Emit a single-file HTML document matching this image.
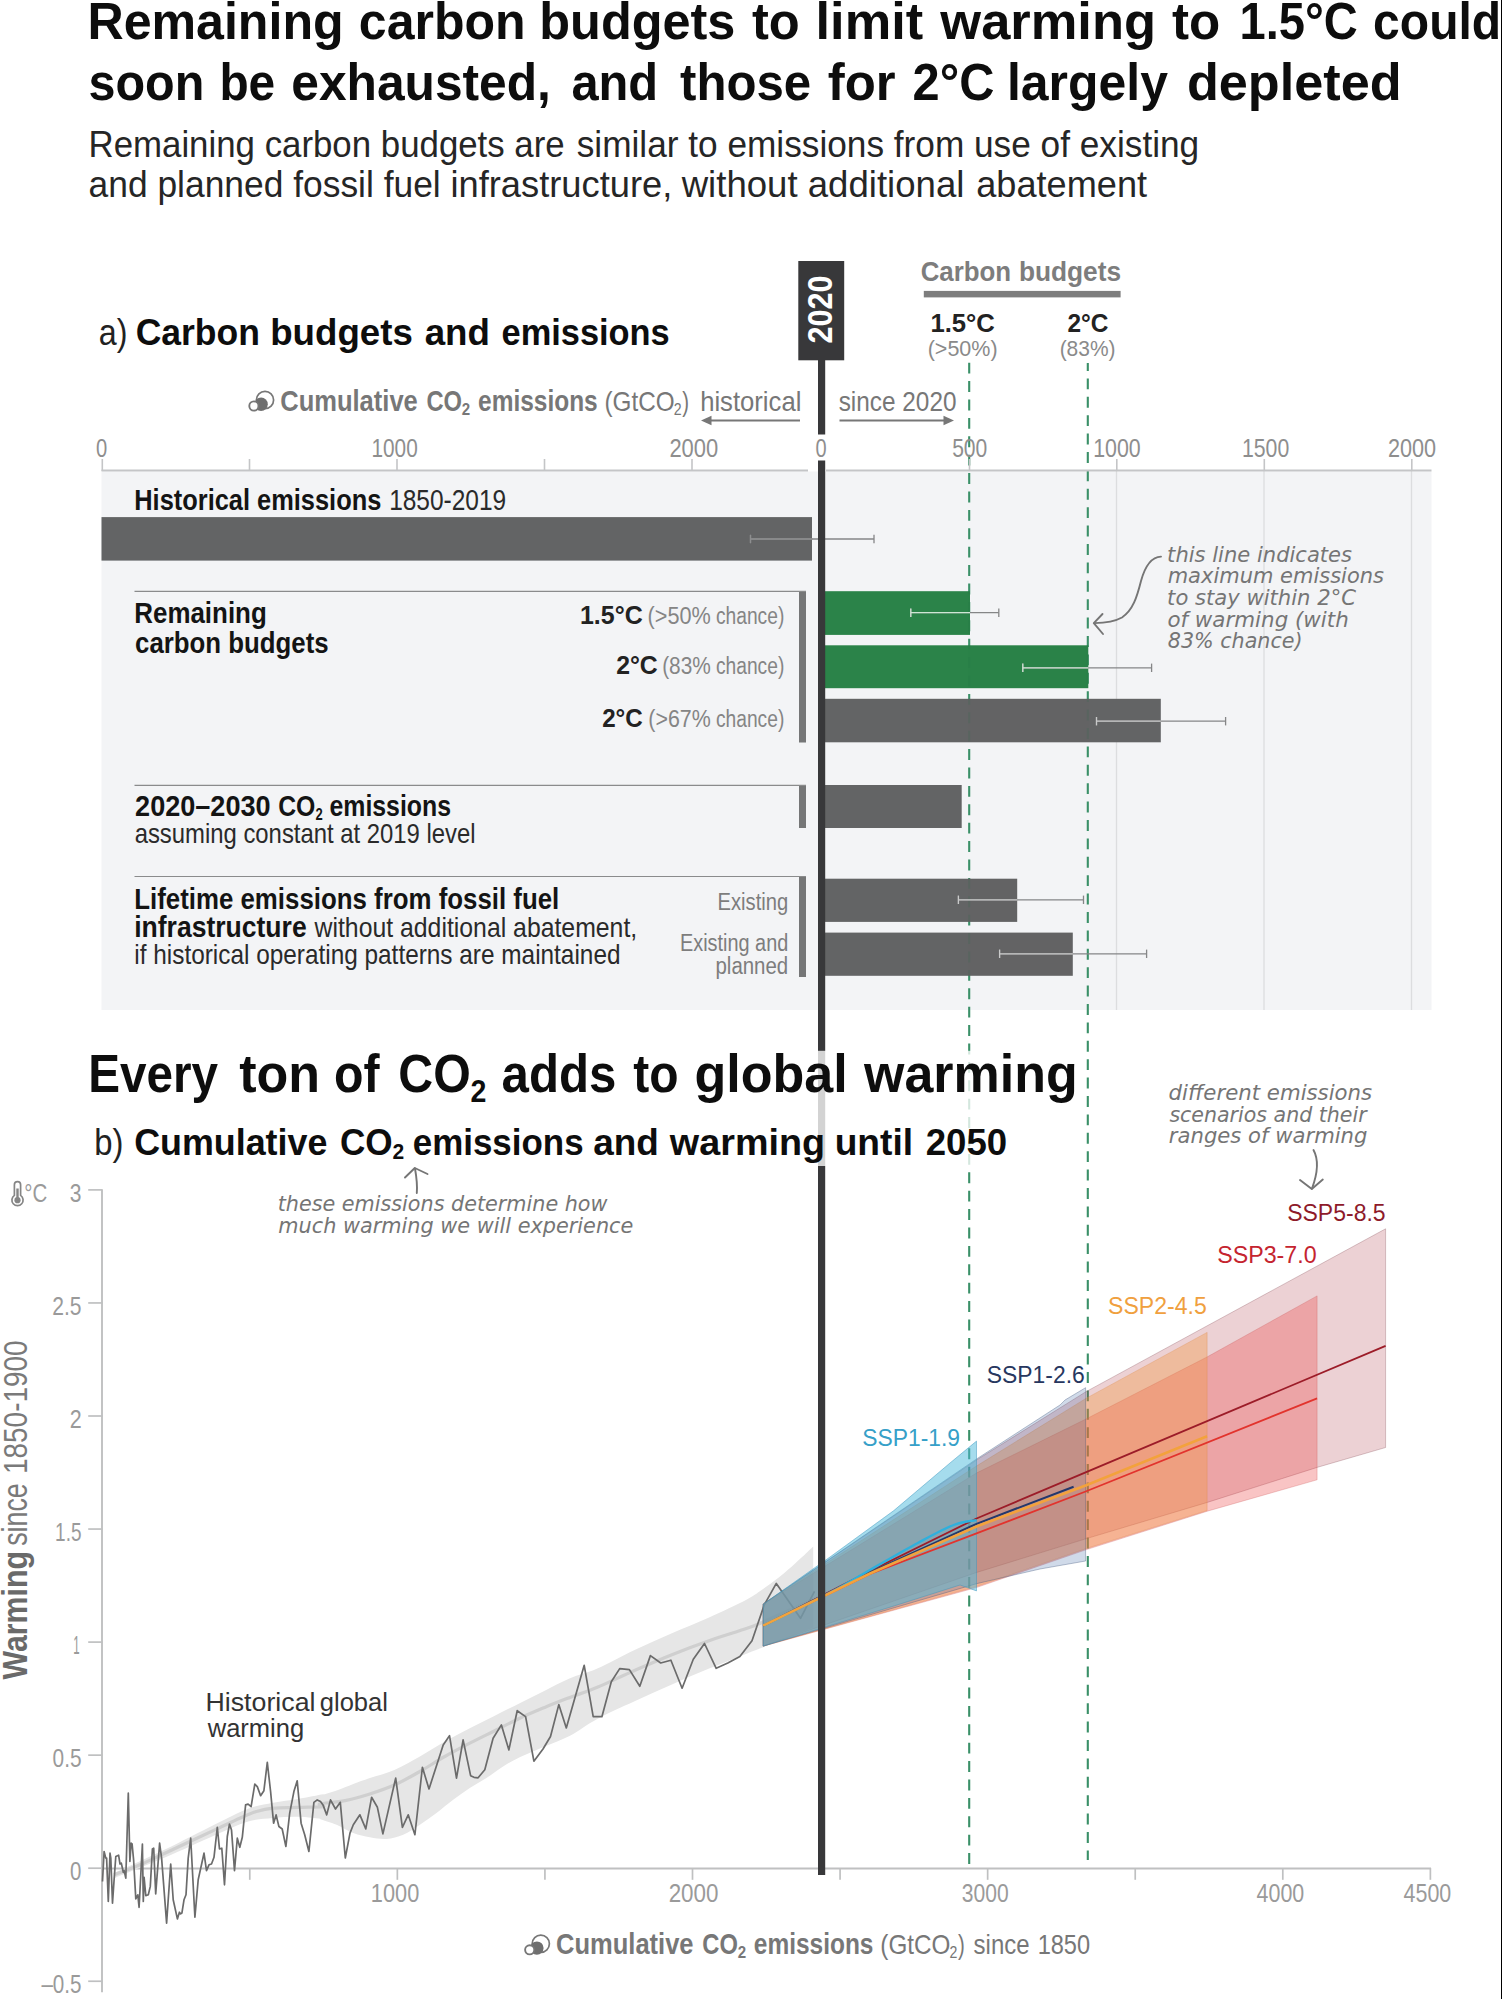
<!DOCTYPE html>
<html lang="en"><head><meta charset="utf-8"><title>Remaining carbon budgets</title>
<style>
html,body{margin:0;padding:0;background:#fff;}
body{width:1502px;height:1999px;overflow:hidden;}
svg{display:block;font-family:"Liberation Sans", "DejaVu Sans", sans-serif;}
</style></head><body>
<svg width="1502" height="1999" viewBox="0 0 1502 1999">
<rect width="1502" height="1999" fill="#fff"/>
<text x="87.44" y="38.6" font-size="52" fill="#0d0d0d" font-weight="bold" textLength="256.21" lengthAdjust="spacingAndGlyphs">Remaining</text>
<text x="358.85" y="38.6" font-size="52" fill="#0d0d0d" font-weight="bold" textLength="166.81" lengthAdjust="spacingAndGlyphs">carbon</text>
<text x="539.32" y="38.6" font-size="52" fill="#0d0d0d" font-weight="bold" textLength="196.08" lengthAdjust="spacingAndGlyphs">budgets</text>
<text x="751.89" y="38.6" font-size="52" fill="#0d0d0d" font-weight="bold" textLength="47.82" lengthAdjust="spacingAndGlyphs">to</text>
<text x="815.6" y="38.6" font-size="52" fill="#0d0d0d" font-weight="bold" textLength="107.49" lengthAdjust="spacingAndGlyphs">limit</text>
<text x="940.36" y="38.6" font-size="52" fill="#0d0d0d" font-weight="bold" textLength="215.64" lengthAdjust="spacingAndGlyphs">warming</text>
<text x="1171.89" y="38.6" font-size="52" fill="#0d0d0d" font-weight="bold" textLength="48.24" lengthAdjust="spacingAndGlyphs">to</text>
<text x="1239.47" y="38.6" font-size="52" fill="#0d0d0d" font-weight="bold" textLength="118.31" lengthAdjust="spacingAndGlyphs">1.5°C</text>
<text x="1373.12" y="38.6" font-size="52" fill="#0d0d0d" font-weight="bold" textLength="128.08" lengthAdjust="spacingAndGlyphs">could</text>
<text x="88.5" y="99.7" font-size="52" fill="#0d0d0d" font-weight="bold" textLength="115.85" lengthAdjust="spacingAndGlyphs">soon</text>
<text x="219.39" y="99.7" font-size="52" fill="#0d0d0d" font-weight="bold" textLength="55.84" lengthAdjust="spacingAndGlyphs">be</text>
<text x="291.26" y="99.7" font-size="52" fill="#0d0d0d" font-weight="bold" textLength="259.63" lengthAdjust="spacingAndGlyphs">exhausted,</text>
<text x="571.38" y="99.7" font-size="52" fill="#0d0d0d" font-weight="bold" textLength="86.73" lengthAdjust="spacingAndGlyphs">and</text>
<text x="680.01" y="99.7" font-size="52" fill="#0d0d0d" font-weight="bold" textLength="131.17" lengthAdjust="spacingAndGlyphs">those</text>
<text x="827.84" y="99.7" font-size="52" fill="#0d0d0d" font-weight="bold" textLength="67.83" lengthAdjust="spacingAndGlyphs">for</text>
<text x="912.54" y="99.7" font-size="52" fill="#0d0d0d" font-weight="bold" textLength="81.84" lengthAdjust="spacingAndGlyphs">2°C</text>
<text x="1006.95" y="99.7" font-size="52" fill="#0d0d0d" font-weight="bold" textLength="161.0" lengthAdjust="spacingAndGlyphs">largely</text>
<text x="1186.91" y="99.7" font-size="52" fill="#0d0d0d" font-weight="bold" textLength="214.68" lengthAdjust="spacingAndGlyphs">depleted</text>
<text x="88.51" y="156.9" font-size="37.3" fill="#262626" textLength="476.2" lengthAdjust="spacingAndGlyphs">Remaining carbon budgets are</text>
<text x="576.72" y="156.9" font-size="37.3" fill="#262626" textLength="387.57" lengthAdjust="spacingAndGlyphs">similar to emissions from</text>
<text x="973.99" y="156.9" font-size="37.3" fill="#262626" textLength="225.22" lengthAdjust="spacingAndGlyphs">use of existing</text>
<text x="88.58" y="197.2" font-size="37.3" fill="#262626" textLength="352.1" lengthAdjust="spacingAndGlyphs">and planned fossil fuel</text>
<text x="450.44" y="197.2" font-size="37.3" fill="#262626" textLength="221.87" lengthAdjust="spacingAndGlyphs">infrastructure,</text>
<text x="681.68" y="197.2" font-size="37.3" fill="#262626" textLength="282.71" lengthAdjust="spacingAndGlyphs">without additional</text>
<text x="976.25" y="197.2" font-size="37.3" fill="#262626" textLength="170.77" lengthAdjust="spacingAndGlyphs">abatement</text>
<text x="98.71" y="344.5" font-size="36.5" fill="#222" textLength="28.7" lengthAdjust="spacingAndGlyphs">a)</text>
<text x="135.68" y="344.5" font-size="36.5" fill="#0d0d0d" font-weight="bold" textLength="124.25" lengthAdjust="spacingAndGlyphs">Carbon</text>
<text x="270.22" y="344.5" font-size="36.5" fill="#0d0d0d" font-weight="bold" textLength="142.62" lengthAdjust="spacingAndGlyphs">budgets</text>
<text x="424.68" y="344.5" font-size="36.5" fill="#0d0d0d" font-weight="bold" textLength="65.31" lengthAdjust="spacingAndGlyphs">and</text>
<text x="501.5" y="344.5" font-size="36.5" fill="#0d0d0d" font-weight="bold" textLength="168.25" lengthAdjust="spacingAndGlyphs">emissions</text>
<rect x="101.5" y="471.5" width="1330" height="538.5" fill="#f3f4f6" />
<line x1="1116.5" y1="471" x2="1116.5" y2="1010" stroke="#dcdddf" stroke-width="1.3" />
<line x1="1264" y1="471" x2="1264" y2="1010" stroke="#dcdddf" stroke-width="1.3" />
<line x1="1411.5" y1="471" x2="1411.5" y2="1010" stroke="#dcdddf" stroke-width="1.3" />
<line x1="969.2" y1="362.7" x2="969.2" y2="1864" stroke="#3a9068" stroke-width="2.1" stroke-dasharray="10.9 7.5" />
<line x1="1087.8" y1="363" x2="1087.8" y2="1860" stroke="#3a9068" stroke-width="2.1" stroke-dasharray="10.9 7.5" stroke-dashoffset="3" />
<g transform="translate(248.5 391.5) scale(1.0)" fill="none" stroke="#777" stroke-width="1.7"><circle cx="16.5" cy="8.5" r="8.6"/><circle cx="12.6" cy="12.8" r="6.7" fill="#6f6f6f" stroke="none"/><circle cx="5.4" cy="14.5" r="4.6" fill="#fff" stroke-width="1.9"/></g>
<text x="280.28" y="410.5" font-size="30" fill="#777" font-weight="bold" textLength="137.49" lengthAdjust="spacingAndGlyphs">Cumulative</text>
<text x="426.45" y="410.5" font-size="30" fill="#777" font-weight="bold" textLength="35.6" lengthAdjust="spacingAndGlyphs">CO</text>
<text x="461.85" y="414.5" font-size="16.5" fill="#777" font-weight="bold" textLength="8.4" lengthAdjust="spacingAndGlyphs">2</text>
<text x="478.04" y="410.5" font-size="30" fill="#777" font-weight="bold" textLength="119.64" lengthAdjust="spacingAndGlyphs">emissions</text>
<text x="604.55" y="410.5" font-size="28.5" fill="#777" textLength="70.03" lengthAdjust="spacingAndGlyphs">(GtCO</text>
<text x="673.79" y="414.5" font-size="16.5" fill="#777" textLength="7.86" lengthAdjust="spacingAndGlyphs">2</text>
<text x="682.2" y="410.5" font-size="28.5" fill="#777" textLength="6.78" lengthAdjust="spacingAndGlyphs">)</text>
<text x="700.13" y="410.5" font-size="28.5" fill="#777" textLength="101.23" lengthAdjust="spacingAndGlyphs">historical</text>
<text x="838.69" y="410.5" font-size="28.5" fill="#777" textLength="117.81" lengthAdjust="spacingAndGlyphs">since 2020</text>
<line x1="708" y1="420.5" x2="800" y2="420.5" stroke="#777" stroke-width="1.8" />
<polygon points="701,420.5 711.5,415.8 711.5,425.2" fill="#777" stroke="none" stroke-width="1" />
<line x1="839.5" y1="420.5" x2="947" y2="420.5" stroke="#777" stroke-width="1.8" />
<polygon points="954,420.5 943.5,415.8 943.5,425.2" fill="#777" stroke="none" stroke-width="1" />
<line x1="101.5" y1="470.5" x2="808" y2="470.5" stroke="#c4c5c7" stroke-width="2" />
<line x1="826" y1="470.5" x2="1431.5" y2="470.5" stroke="#c4c5c7" stroke-width="2" />
<line x1="102.3" y1="459" x2="102.3" y2="471" stroke="#c4c5c7" stroke-width="1.6" />
<line x1="249.5" y1="459" x2="249.5" y2="471" stroke="#c4c5c7" stroke-width="1.6" />
<line x1="397" y1="459" x2="397" y2="471" stroke="#c4c5c7" stroke-width="1.6" />
<line x1="544.5" y1="459" x2="544.5" y2="471" stroke="#c4c5c7" stroke-width="1.6" />
<line x1="692" y1="459" x2="692" y2="471" stroke="#c4c5c7" stroke-width="1.6" />
<line x1="969.5" y1="459" x2="969.5" y2="471" stroke="#c4c5c7" stroke-width="1.6" />
<line x1="1116.8" y1="459" x2="1116.8" y2="471" stroke="#c4c5c7" stroke-width="1.6" />
<line x1="1264.3" y1="459" x2="1264.3" y2="471" stroke="#c4c5c7" stroke-width="1.6" />
<line x1="1411.8" y1="459" x2="1411.8" y2="471" stroke="#c4c5c7" stroke-width="1.6" />
<text x="96.09" y="456.8" font-size="26" fill="#8e8e8e" textLength="11.24" lengthAdjust="spacingAndGlyphs">0</text>
<text x="371.44" y="456.8" font-size="26" fill="#8e8e8e" textLength="46.28" lengthAdjust="spacingAndGlyphs">1000</text>
<text x="669.4" y="456.8" font-size="26" fill="#8e8e8e" textLength="48.86" lengthAdjust="spacingAndGlyphs">2000</text>
<text x="815.6" y="456.8" font-size="26" fill="#8e8e8e" textLength="11.12" lengthAdjust="spacingAndGlyphs">0</text>
<text x="952.16" y="456.8" font-size="26" fill="#8e8e8e" textLength="35.15" lengthAdjust="spacingAndGlyphs">500</text>
<text x="1093.2" y="456.8" font-size="26" fill="#8e8e8e" textLength="47.54" lengthAdjust="spacingAndGlyphs">1000</text>
<text x="1242.01" y="456.8" font-size="26" fill="#8e8e8e" textLength="47.23" lengthAdjust="spacingAndGlyphs">1500</text>
<text x="1387.92" y="456.8" font-size="26" fill="#8e8e8e" textLength="48.13" lengthAdjust="spacingAndGlyphs">2000</text>
<text x="920.67" y="280.6" font-size="27" fill="#7d7d7d" font-weight="bold" textLength="90.49" lengthAdjust="spacingAndGlyphs">Carbon</text>
<text x="1018.89" y="280.6" font-size="27" fill="#7d7d7d" font-weight="bold" textLength="102.2" lengthAdjust="spacingAndGlyphs">budgets</text>
<rect x="923.8" y="290.9" width="196.8" height="6.5" fill="#7d7d7d" />
<text x="930.46" y="331.8" font-size="25.3" fill="#222" font-weight="bold" textLength="64.44" lengthAdjust="spacingAndGlyphs">1.5°C</text>
<text x="927.71" y="356" font-size="22.5" fill="#8a8a8a" textLength="69.91" lengthAdjust="spacingAndGlyphs">(&gt;50%)</text>
<text x="1067.47" y="331.6" font-size="25.3" fill="#222" font-weight="bold" textLength="40.92" lengthAdjust="spacingAndGlyphs">2°C</text>
<text x="1059.64" y="356" font-size="22.5" fill="#8a8a8a" textLength="55.86" lengthAdjust="spacingAndGlyphs">(83%)</text>
<rect x="101.5" y="517.1" width="710.5" height="43.5" fill="#636465" />
<rect x="825" y="591.2" width="145" height="43.7" fill="#2b8349" />
<rect x="825" y="645.3" width="263.3" height="42.9" fill="#2b8349" />
<rect x="825" y="698.8" width="335.8" height="43.5" fill="#636465" />
<rect x="825" y="785" width="136.7" height="43" fill="#636465" />
<rect x="825" y="878.7" width="192.2" height="43.2" fill="#636465" />
<rect x="825" y="932.6" width="247.8" height="43.2" fill="#636465" />
<clipPath id="barclip"><rect x="825" y="591.2" width="145" height="43.7"/><rect x="825" y="645" width="263.3" height="43.3"/><rect x="825" y="698.4" width="335.8" height="44"/><rect x="825" y="785" width="136.7" height="43"/><rect x="825" y="878.7" width="192.2" height="43.2"/><rect x="825" y="932.6" width="247.8" height="43.2"/></clipPath>
<g clip-path="url(#barclip)" opacity="0.14">
<line x1="969.2" y1="362.7" x2="969.2" y2="1864" stroke="#1f6b45" stroke-width="2.2" stroke-dasharray="10.9 7.5"/>
<line x1="1087.8" y1="363" x2="1087.8" y2="1860" stroke="#1f6b45" stroke-width="2.2" stroke-dasharray="10.9 7.5" stroke-dashoffset="3"/>
</g>
<rect x="799" y="591" width="7" height="151.5" fill="#757677" />
<rect x="799" y="785" width="7" height="43" fill="#757677" />
<rect x="799" y="876.5" width="7" height="100.5" fill="#757677" />
<line x1="134.5" y1="591.3" x2="806" y2="591.3" stroke="#8a8b8c" stroke-width="1.2" />
<line x1="134.5" y1="785.3" x2="806" y2="785.3" stroke="#8a8b8c" stroke-width="1.2" />
<line x1="134.5" y1="876.5" x2="806" y2="876.5" stroke="#8a8b8c" stroke-width="1.2" />
<line x1="750.5" y1="539" x2="874" y2="539" stroke="#858687" stroke-width="1.3" />
<line x1="750.5" y1="534.8" x2="750.5" y2="543.2" stroke="#858687" stroke-width="1.3" />
<line x1="874" y1="534.8" x2="874" y2="543.2" stroke="#858687" stroke-width="1.3" />
<line x1="750.5" y1="539" x2="812.5" y2="539" stroke="#8d8e8f" stroke-width="1.3" />
<line x1="750.5" y1="534.8" x2="750.5" y2="543.2" stroke="#8d8e8f" stroke-width="1.3" />
<line x1="910.8" y1="612.7" x2="998.8" y2="612.7" stroke="#858687" stroke-width="1.3" />
<line x1="910.8" y1="608.5" x2="910.8" y2="616.9000000000001" stroke="#858687" stroke-width="1.3" />
<line x1="998.8" y1="608.5" x2="998.8" y2="616.9000000000001" stroke="#858687" stroke-width="1.3" />
<line x1="910.8" y1="612.7" x2="970" y2="612.7" stroke="#cfe6d5" stroke-width="1.3" />
<line x1="910.8" y1="608.5" x2="910.8" y2="616.9000000000001" stroke="#cfe6d5" stroke-width="1.3" />
<line x1="1022.8" y1="667.8" x2="1151.6" y2="667.8" stroke="#858687" stroke-width="1.3" />
<line x1="1022.8" y1="663.5999999999999" x2="1022.8" y2="672.0" stroke="#858687" stroke-width="1.3" />
<line x1="1151.6" y1="663.5999999999999" x2="1151.6" y2="672.0" stroke="#858687" stroke-width="1.3" />
<line x1="1022.8" y1="667.8" x2="1088.3" y2="667.8" stroke="#cfe6d5" stroke-width="1.3" />
<line x1="1022.8" y1="663.5999999999999" x2="1022.8" y2="672.0" stroke="#cfe6d5" stroke-width="1.3" />
<line x1="1096.5" y1="721.2" x2="1225.6" y2="721.2" stroke="#858687" stroke-width="1.3" />
<line x1="1096.5" y1="717.0" x2="1096.5" y2="725.4000000000001" stroke="#858687" stroke-width="1.3" />
<line x1="1225.6" y1="717.0" x2="1225.6" y2="725.4000000000001" stroke="#858687" stroke-width="1.3" />
<line x1="1096.5" y1="721.2" x2="1160.8" y2="721.2" stroke="#c9caca" stroke-width="1.3" />
<line x1="1096.5" y1="717.0" x2="1096.5" y2="725.4000000000001" stroke="#c9caca" stroke-width="1.3" />
<line x1="958.4" y1="899.8" x2="1083.5" y2="899.8" stroke="#858687" stroke-width="1.3" />
<line x1="958.4" y1="895.5999999999999" x2="958.4" y2="904.0" stroke="#858687" stroke-width="1.3" />
<line x1="1083.5" y1="895.5999999999999" x2="1083.5" y2="904.0" stroke="#858687" stroke-width="1.3" />
<line x1="958.4" y1="899.8" x2="1017.2" y2="899.8" stroke="#c9caca" stroke-width="1.3" />
<line x1="958.4" y1="895.5999999999999" x2="958.4" y2="904.0" stroke="#c9caca" stroke-width="1.3" />
<line x1="999.6" y1="953.8" x2="1146.6" y2="953.8" stroke="#858687" stroke-width="1.3" />
<line x1="999.6" y1="949.5999999999999" x2="999.6" y2="958.0" stroke="#858687" stroke-width="1.3" />
<line x1="1146.6" y1="949.5999999999999" x2="1146.6" y2="958.0" stroke="#858687" stroke-width="1.3" />
<line x1="999.6" y1="953.8" x2="1072.8" y2="953.8" stroke="#c9caca" stroke-width="1.3" />
<line x1="999.6" y1="949.5999999999999" x2="999.6" y2="958.0" stroke="#c9caca" stroke-width="1.3" />
<text x="134.25" y="510.2" font-size="29" fill="#141414" font-weight="bold" textLength="247.07" lengthAdjust="spacingAndGlyphs">Historical emissions</text>
<text x="389.17" y="510.2" font-size="29" fill="#2a2a2a" textLength="116.99" lengthAdjust="spacingAndGlyphs">1850-2019</text>
<text x="134.32" y="623.3" font-size="29" fill="#141414" font-weight="bold" textLength="132.42" lengthAdjust="spacingAndGlyphs">Remaining</text>
<text x="135.1" y="653" font-size="29" fill="#141414" font-weight="bold" textLength="193.52" lengthAdjust="spacingAndGlyphs">carbon budgets</text>
<text x="580.0" y="624.1" font-size="25.3" fill="#222" font-weight="bold" textLength="62.68" lengthAdjust="spacingAndGlyphs">1.5°C</text>
<text x="647.6" y="624.1" font-size="23.5" fill="#858585" textLength="63.23" lengthAdjust="spacingAndGlyphs">(&gt;50%</text>
<text x="715.93" y="624.1" font-size="23.5" fill="#858585" textLength="68.38" lengthAdjust="spacingAndGlyphs">chance)</text>
<text x="616.16" y="674.2" font-size="25.3" fill="#222" font-weight="bold" textLength="41.54" lengthAdjust="spacingAndGlyphs">2°C</text>
<text x="662.15" y="674.2" font-size="23.5" fill="#858585" textLength="48.67" lengthAdjust="spacingAndGlyphs">(83%</text>
<text x="715.93" y="674.2" font-size="23.5" fill="#858585" textLength="68.38" lengthAdjust="spacingAndGlyphs">chance)</text>
<text x="602.18" y="726.6" font-size="25.3" fill="#222" font-weight="bold" textLength="40.51" lengthAdjust="spacingAndGlyphs">2°C</text>
<text x="648.32" y="726.6" font-size="23.5" fill="#858585" textLength="62.5" lengthAdjust="spacingAndGlyphs">(&gt;67%</text>
<text x="715.93" y="726.6" font-size="23.5" fill="#858585" textLength="68.38" lengthAdjust="spacingAndGlyphs">chance)</text>
<text x="135.09" y="816" font-size="29" fill="#141414" font-weight="bold" textLength="135.47" lengthAdjust="spacingAndGlyphs">2020–2030</text>
<text x="278.21" y="816" font-size="29" fill="#141414" font-weight="bold" textLength="37.18" lengthAdjust="spacingAndGlyphs">CO</text>
<text x="315.51" y="819.5" font-size="16.5" fill="#141414" font-weight="bold" textLength="7.26" lengthAdjust="spacingAndGlyphs">2</text>
<text x="329.43" y="816" font-size="29" fill="#141414" font-weight="bold" textLength="121.67" lengthAdjust="spacingAndGlyphs">emissions</text>
<text x="134.65" y="843.2" font-size="28" fill="#2a2a2a" textLength="340.93" lengthAdjust="spacingAndGlyphs">assuming constant at 2019 level</text>
<text x="134.22" y="909.2" font-size="29" fill="#141414" font-weight="bold" textLength="425.05" lengthAdjust="spacingAndGlyphs">Lifetime emissions from fossil fuel</text>
<text x="134.18" y="937.2" font-size="29" fill="#141414" font-weight="bold" textLength="172.46" lengthAdjust="spacingAndGlyphs">infrastructure</text>
<text x="314.52" y="937.2" font-size="28" fill="#2a2a2a" textLength="322.69" lengthAdjust="spacingAndGlyphs">without additional abatement,</text>
<text x="134.32" y="963.8" font-size="28" fill="#2a2a2a" textLength="486.17" lengthAdjust="spacingAndGlyphs">if historical operating patterns are maintained</text>
<text x="717.48" y="909.8" font-size="23.5" fill="#7d7d7d" textLength="70.76" lengthAdjust="spacingAndGlyphs">Existing</text>
<text x="680.01" y="951" font-size="23.5" fill="#7d7d7d" textLength="108.24" lengthAdjust="spacingAndGlyphs">Existing and</text>
<text x="715.47" y="973.7" font-size="23.5" fill="#7d7d7d" textLength="72.74" lengthAdjust="spacingAndGlyphs">planned</text>
<text x="1167.14" y="561.5" font-size="20.5" fill="#757575" font-style="italic" font-family='"DejaVu Sans", "Liberation Sans", sans-serif' textLength="184.89" lengthAdjust="spacingAndGlyphs">this line indicates</text>
<text x="1167.67" y="583.2" font-size="20.5" fill="#757575" font-style="italic" font-family='"DejaVu Sans", "Liberation Sans", sans-serif' textLength="216.36" lengthAdjust="spacingAndGlyphs">maximum emissions</text>
<text x="1167.13" y="604.9" font-size="20.5" fill="#757575" font-style="italic" font-family='"DejaVu Sans", "Liberation Sans", sans-serif' textLength="188.83" lengthAdjust="spacingAndGlyphs">to stay within 2°C</text>
<text x="1167.44" y="626.6" font-size="20.5" fill="#757575" font-style="italic" font-family='"DejaVu Sans", "Liberation Sans", sans-serif' textLength="181.33" lengthAdjust="spacingAndGlyphs">of warming (with</text>
<text x="1167.78" y="648.3" font-size="20.5" fill="#757575" font-style="italic" font-family='"DejaVu Sans", "Liberation Sans", sans-serif' textLength="134.81" lengthAdjust="spacingAndGlyphs">83% chance)</text>
<path d="M1161,556.6 C1150,557 1144,570 1141,581 C1137,597 1133,610 1122,617.5 C1113,622.5 1103,623 1094.5,623.1" stroke="#757575" stroke-width="1.9" fill="none" stroke-linecap="round"/>
<path d="M1102.5,614 L1093.8,623.1 L1103,634" stroke="#757575" stroke-width="1.9" fill="none" stroke-linecap="round" stroke-linejoin="round"/>
<line x1="102" y1="1189.5" x2="102" y2="1992.3" stroke="#bfc0c1" stroke-width="1.9" />
<line x1="88.2" y1="1981.25" x2="102.5" y2="1981.25" stroke="#bfc0c1" stroke-width="1.7" />
<text x="41.4" y="1993.2" font-size="26" fill="#9a9a9a" textLength="40.15" lengthAdjust="spacingAndGlyphs">–0.5</text>
<line x1="88.2" y1="1868.2" x2="102.5" y2="1868.2" stroke="#bfc0c1" stroke-width="1.7" />
<text x="70.09" y="1880.1" font-size="26" fill="#9a9a9a" textLength="11.35" lengthAdjust="spacingAndGlyphs">0</text>
<line x1="88.2" y1="1755.15" x2="102.5" y2="1755.15" stroke="#bfc0c1" stroke-width="1.7" />
<text x="52.57" y="1767.1" font-size="26" fill="#9a9a9a" textLength="28.97" lengthAdjust="spacingAndGlyphs">0.5</text>
<line x1="88.2" y1="1642.1000000000001" x2="102.5" y2="1642.1000000000001" stroke="#bfc0c1" stroke-width="1.7" />
<text x="73.14" y="1654.0" font-size="26" fill="#9a9a9a" textLength="6.39" lengthAdjust="spacingAndGlyphs">1</text>
<line x1="88.2" y1="1529.0500000000002" x2="102.5" y2="1529.0500000000002" stroke="#bfc0c1" stroke-width="1.7" />
<text x="55.08" y="1541.0" font-size="26" fill="#9a9a9a" textLength="26.39" lengthAdjust="spacingAndGlyphs">1.5</text>
<line x1="88.2" y1="1416.0" x2="102.5" y2="1416.0" stroke="#bfc0c1" stroke-width="1.7" />
<text x="69.72" y="1427.9" font-size="26" fill="#9a9a9a" textLength="11.97" lengthAdjust="spacingAndGlyphs">2</text>
<line x1="88.2" y1="1302.95" x2="102.5" y2="1302.95" stroke="#bfc0c1" stroke-width="1.7" />
<text x="52.25" y="1314.9" font-size="26" fill="#9a9a9a" textLength="29.3" lengthAdjust="spacingAndGlyphs">2.5</text>
<line x1="88.2" y1="1189.9" x2="102.5" y2="1189.9" stroke="#bfc0c1" stroke-width="1.7" />
<text x="69.86" y="1201.8" font-size="26" fill="#9a9a9a" textLength="11.7" lengthAdjust="spacingAndGlyphs">3</text>
<line x1="101" y1="1868.6" x2="1431" y2="1868.6" stroke="#bfc0c1" stroke-width="2" />
<line x1="249.77500000000003" y1="1868" x2="249.77500000000003" y2="1879.8" stroke="#bfc0c1" stroke-width="1.7" />
<line x1="397.35" y1="1868" x2="397.35" y2="1879.8" stroke="#bfc0c1" stroke-width="1.7" />
<line x1="544.9250000000001" y1="1868" x2="544.9250000000001" y2="1879.8" stroke="#bfc0c1" stroke-width="1.7" />
<line x1="692.5000000000001" y1="1868" x2="692.5000000000001" y2="1879.8" stroke="#bfc0c1" stroke-width="1.7" />
<line x1="840.0750000000002" y1="1868" x2="840.0750000000002" y2="1879.8" stroke="#bfc0c1" stroke-width="1.7" />
<line x1="987.6500000000001" y1="1868" x2="987.6500000000001" y2="1879.8" stroke="#bfc0c1" stroke-width="1.7" />
<line x1="1135.2250000000001" y1="1868" x2="1135.2250000000001" y2="1879.8" stroke="#bfc0c1" stroke-width="1.7" />
<line x1="1282.8000000000002" y1="1868" x2="1282.8000000000002" y2="1879.8" stroke="#bfc0c1" stroke-width="1.7" />
<line x1="1430.3750000000002" y1="1868" x2="1430.3750000000002" y2="1879.8" stroke="#bfc0c1" stroke-width="1.7" />
<text x="370.87" y="1902.4" font-size="26" fill="#9a9a9a" textLength="48.39" lengthAdjust="spacingAndGlyphs">1000</text>
<text x="668.68" y="1902.4" font-size="26" fill="#9a9a9a" textLength="49.8" lengthAdjust="spacingAndGlyphs">2000</text>
<text x="961.86" y="1902.4" font-size="26" fill="#9a9a9a" textLength="46.87" lengthAdjust="spacingAndGlyphs">3000</text>
<text x="1256.57" y="1902.4" font-size="26" fill="#9a9a9a" textLength="47.67" lengthAdjust="spacingAndGlyphs">4000</text>
<text x="1403.57" y="1902.4" font-size="26" fill="#9a9a9a" textLength="47.67" lengthAdjust="spacingAndGlyphs">4500</text>
<g fill="none" stroke="#858585" stroke-width="1.7"><path d="M14.4,1184.8 a3.1,3.1 0 0 1 6.2,0 v10.6 a5.6,5.6 0 1 1 -6.2,0 z"/><path d="M17.5,1188.5 v10" stroke-width="2.4"/><circle cx="17.5" cy="1200.2" r="3.1" fill="#858585" stroke="none"/></g>
<text x="24.37" y="1201.8" font-size="26" fill="#9a9a9a" textLength="22.99" lengthAdjust="spacingAndGlyphs">°C</text>
<text transform="translate(26.9 1679.5) rotate(-90)" x="-0.00" y="0" font-size="34.5" fill="#6a6a6a" font-weight="bold" textLength="128.49" lengthAdjust="spacingAndGlyphs">Warming</text>
<text transform="translate(26.9 1545.2) rotate(-90)" x="-0.67" y="0" font-size="34.5" fill="#7a7a7a" textLength="62.53" lengthAdjust="spacingAndGlyphs">since</text>
<text transform="translate(26.9 1471.9) rotate(-90)" x="-2.09" y="0" font-size="33" fill="#7a7a7a" textLength="133.54" lengthAdjust="spacingAndGlyphs">1850-1900</text>
<g transform="translate(524.3 1935.3) scale(1.0)" fill="none" stroke="#777" stroke-width="1.7"><circle cx="16.5" cy="8.5" r="8.6"/><circle cx="12.6" cy="12.8" r="6.7" fill="#6f6f6f" stroke="none"/><circle cx="5.4" cy="14.5" r="4.6" fill="#fff" stroke-width="1.9"/></g>
<text x="556.08" y="1954.3" font-size="30" fill="#777" font-weight="bold" textLength="137.49" lengthAdjust="spacingAndGlyphs">Cumulative</text>
<text x="702.25" y="1954.3" font-size="30" fill="#777" font-weight="bold" textLength="35.6" lengthAdjust="spacingAndGlyphs">CO</text>
<text x="737.65" y="1958.3" font-size="16.5" fill="#777" font-weight="bold" textLength="8.4" lengthAdjust="spacingAndGlyphs">2</text>
<text x="753.84" y="1954.3" font-size="30" fill="#777" font-weight="bold" textLength="119.64" lengthAdjust="spacingAndGlyphs">emissions</text>
<text x="880.35" y="1954.3" font-size="28.5" fill="#777" textLength="70.03" lengthAdjust="spacingAndGlyphs">(GtCO</text>
<text x="949.59" y="1958.3" font-size="16.5" fill="#777" textLength="7.86" lengthAdjust="spacingAndGlyphs">2</text>
<text x="958.0" y="1954.3" font-size="28.5" fill="#777" textLength="6.78" lengthAdjust="spacingAndGlyphs">)</text>
<text x="973.6" y="1954.3" font-size="28.5" fill="#777" textLength="55.95" lengthAdjust="spacingAndGlyphs">since</text>
<text x="1037.63" y="1954.3" font-size="28.5" fill="#777" textLength="52.49" lengthAdjust="spacingAndGlyphs">1850</text>
<text x="277.76" y="1211" font-size="20.5" fill="#757575" font-style="italic" font-family='"DejaVu Sans", "Liberation Sans", sans-serif' textLength="329.7" lengthAdjust="spacingAndGlyphs">these emissions determine how</text>
<text x="278.27" y="1233.3" font-size="20.5" fill="#757575" font-style="italic" font-family='"DejaVu Sans", "Liberation Sans", sans-serif' textLength="355.06" lengthAdjust="spacingAndGlyphs">much warming we will experience</text>
<path d="M416.8,1193 C417.5,1185 416.5,1177 415,1168.5" stroke="#757575" stroke-width="1.9" fill="none" stroke-linecap="round"/>
<path d="M405,1177.5 L414.8,1168 L427.5,1174" stroke="#757575" stroke-width="1.9" fill="none" stroke-linecap="round" stroke-linejoin="round"/>
<text x="1168.64" y="1100" font-size="20.5" fill="#757575" font-style="italic" font-family='"DejaVu Sans", "Liberation Sans", sans-serif' textLength="203.56" lengthAdjust="spacingAndGlyphs">different emissions</text>
<text x="1169.39" y="1121.6" font-size="20.5" fill="#757575" font-style="italic" font-family='"DejaVu Sans", "Liberation Sans", sans-serif' textLength="197.21" lengthAdjust="spacingAndGlyphs">scenarios and their</text>
<text x="1168.86" y="1143" font-size="20.5" fill="#757575" font-style="italic" font-family='"DejaVu Sans", "Liberation Sans", sans-serif' textLength="198.6" lengthAdjust="spacingAndGlyphs">ranges of warming</text>
<path d="M1313.5,1150 C1319,1160 1317,1175 1312,1188.5" stroke="#757575" stroke-width="1.9" fill="none" stroke-linecap="round"/>
<path d="M1300,1180 L1311.8,1189 L1322.8,1179.5" stroke="#757575" stroke-width="1.9" fill="none" stroke-linecap="round" stroke-linejoin="round"/>
<text x="205.46" y="1711" font-size="25.7" fill="#333" textLength="110.0" lengthAdjust="spacingAndGlyphs">Historical</text>
<text x="319.78" y="1711" font-size="25.7" fill="#333" textLength="68.16" lengthAdjust="spacingAndGlyphs">global</text>
<text x="207.73" y="1737.3" font-size="25.7" fill="#333" textLength="96.48" lengthAdjust="spacingAndGlyphs">warming</text>
<path d="M114.1,1873.1 C122.6,1869.2 148.1,1857.6 164.9,1849.5 C181.7,1841.4 201.0,1831.3 214.8,1824.5 C228.7,1817.7 238.4,1812.3 248.1,1808.7 C257.8,1805.1 264.8,1804.4 273.1,1802.7 C281.4,1801.1 289.7,1800.3 298.1,1798.9 C306.4,1797.5 319.4,1794.8 323.0,1794.2 C326.7,1793.7 317.7,1796.2 320.0,1795.6 C322.3,1795.0 331.1,1792.6 336.6,1790.6 C342.2,1788.7 347.7,1786.1 353.3,1784.0 C358.8,1781.9 363.0,1780.5 369.9,1778.1 C376.9,1775.8 386.6,1773.4 394.9,1769.8 C403.2,1766.2 411.5,1761.2 419.9,1756.5 C428.2,1751.8 436.5,1746.2 444.8,1741.5 C453.2,1736.8 461.5,1732.5 469.8,1728.2 C478.1,1723.9 486.4,1719.9 494.8,1715.7 C503.1,1711.6 511.4,1707.4 519.7,1703.2 C528.1,1699.1 536.3,1694.9 544.7,1690.8 C553.1,1686.6 561.2,1682.0 570.0,1678.3 C578.8,1674.6 586.5,1673.4 597.3,1668.6 C608.0,1663.9 622.1,1655.9 634.6,1650.0 C647.0,1644.1 659.4,1638.7 671.9,1633.2 C684.3,1627.8 696.7,1623.0 709.1,1617.4 C721.6,1611.8 737.1,1604.6 746.4,1599.7 C755.7,1594.7 758.9,1591.9 765.1,1587.5 C771.3,1583.2 777.5,1578.7 783.7,1573.6 C789.9,1568.4 797.4,1561.3 802.4,1556.8 C807.3,1552.3 811.4,1548.2 813.2,1546.5 L813.2,1627.6 C804.8,1630.9 774.3,1642.8 763.2,1647.2 C752.1,1651.5 755.4,1650.1 746.4,1653.7 C737.4,1657.3 721.6,1663.5 709.1,1668.6 C696.7,1673.8 684.3,1679.0 671.9,1684.5 C659.4,1689.9 647.0,1695.5 634.6,1701.3 C622.1,1707.0 608.0,1713.2 597.3,1719.0 C586.5,1724.7 578.8,1731.1 570.0,1735.7 C561.2,1740.3 553.1,1742.9 544.7,1746.5 C536.3,1750.1 526.7,1754.0 519.7,1757.3 C512.8,1760.7 508.6,1763.0 503.1,1766.5 C497.5,1770.0 492.0,1774.5 486.4,1778.1 C480.9,1781.8 475.3,1784.5 469.8,1788.1 C464.3,1791.7 458.7,1795.6 453.2,1799.8 C447.6,1803.9 442.1,1808.9 436.5,1813.1 C431.0,1817.3 425.4,1821.1 419.9,1824.8 C414.3,1828.4 408.8,1832.4 403.2,1834.7 C397.7,1837.1 392.1,1838.5 386.6,1838.9 C381.0,1839.3 375.5,1838.2 369.9,1837.2 C364.4,1836.3 358.8,1835.2 353.3,1833.1 C347.7,1831.0 342.2,1827.1 336.6,1824.8 C331.1,1822.4 322.3,1819.9 320.0,1818.9 C317.7,1817.9 326.7,1819.2 323.0,1818.9 C319.4,1818.5 306.4,1816.9 298.1,1816.7 C289.7,1816.5 281.4,1817.1 273.1,1817.9 C264.8,1818.7 257.8,1818.6 248.1,1821.5 C238.4,1824.4 228.7,1829.2 214.8,1835.2 C201.0,1841.2 181.7,1850.3 164.9,1857.5 C148.1,1864.6 122.6,1874.7 114.1,1878.1 Z" stroke="none" stroke-width="1" fill="#e6e6e6" />
<path d="M114.1,1874.8 C118.4,1873.1 131.5,1868.4 139.9,1864.8 C148.4,1861.2 156.6,1857.0 164.9,1853.2 C173.2,1849.3 181.5,1845.4 189.9,1841.5 C198.2,1837.6 206.5,1833.7 214.8,1829.9 C223.2,1826.0 232.9,1821.3 239.8,1818.2 C246.7,1815.2 250.9,1813.2 256.4,1811.5 C262.0,1809.9 266.2,1808.9 273.1,1808.2 C280.0,1807.5 289.7,1807.7 298.1,1807.4 C306.4,1807.1 319.4,1807.1 323.0,1806.6 C326.7,1806.0 316.3,1804.9 320.0,1803.9 C323.7,1803.0 336.6,1802.3 345.0,1800.6 C353.3,1799.0 361.6,1796.6 369.9,1794.0 C378.3,1791.3 386.6,1788.6 394.9,1784.8 C403.2,1781.1 411.5,1776.2 419.9,1771.5 C428.2,1766.8 436.5,1761.2 444.8,1756.5 C453.2,1751.8 461.5,1747.5 469.8,1743.2 C478.1,1738.9 486.4,1734.9 494.8,1730.7 C503.1,1726.6 511.4,1722.1 519.7,1718.2 C528.1,1714.3 536.3,1710.9 544.7,1707.4 C553.1,1703.9 561.2,1700.8 570.0,1697.4 C578.8,1694.1 586.5,1691.8 597.3,1687.3 C608.0,1682.8 622.1,1675.9 634.6,1670.5 C647.0,1665.1 659.4,1659.6 671.9,1654.7 C684.3,1649.7 696.7,1645.0 709.1,1640.7 C721.6,1636.3 737.4,1631.7 746.4,1628.6 C755.4,1625.4 752.1,1626.8 763.2,1622.0 C774.3,1617.2 804.8,1603.4 813.2,1599.7" stroke="#cfcfcf" stroke-width="3.2" fill="none" />
<polyline points="102.5,1881.5 104.1,1851.5 105.8,1858.1 106.6,1858.1 108.3,1901.4 110.0,1853.2 110.8,1858.1 112.5,1903.1 114.1,1879.8 115.8,1856.5 118.6,1855.2 120.0,1864.0 121.3,1863.1 123.3,1872.3 124.1,1870.6 125.8,1878.1 128.3,1793.2 129.9,1861.5 131.1,1843.2 132.1,1844.0 133.6,1859.8 135.8,1898.9 137.8,1894.8 139.1,1907.3 142.4,1844.0 143.3,1901.4 144.1,1877.3 145.8,1895.6 148.3,1894.8 150.3,1886.4 152.4,1849.0 153.7,1848.2 155.7,1893.9 159.6,1843.2 161.6,1858.1 166.6,1923.1 170.7,1864.0 173.2,1899.8 177.4,1918.9 179.4,1912.2 180.7,1913.9 181.9,1913.1 184.0,1899.8 186.0,1894.8 188.2,1858.1 190.7,1838.2 194.9,1917.2 198.2,1879.8 204.0,1853.2 206.5,1870.6 209.0,1864.8 211.5,1864.0 214.0,1857.3 217.3,1827.4 219.5,1849.0 221.8,1848.2 224.5,1884.8 227.3,1836.5 229.5,1824.0 231.5,1829.9 234.5,1870.6 237.3,1838.2 239.8,1847.3 242.3,1837.3 245.6,1804.9 248.1,1804.1 251.1,1806.6 254.8,1784.1 257.3,1786.6 260.6,1795.7 263.9,1790.7 267.3,1762.4 270.6,1791.6 273.6,1823.2 276.1,1814.9 278.9,1826.5 282.2,1829.0 285.9,1846.5 289.7,1813.2 293.9,1791.6 297.2,1780.8 301.1,1823.2 304.7,1834.8 308.9,1851.5 313.9,1802.4 317.2,1799.9 320.5,1801.6 323.0,1804.9 326.7,1814.9 330.5,1799.9 335.5,1809.0 340.3,1802.3 345.3,1858.0 350.0,1833.1 353.3,1824.8 359.9,1814.8 365.8,1828.9 371.6,1797.3 377.4,1807.3 382.9,1833.9 395.7,1778.1 402.4,1827.3 408.2,1814.8 414.9,1834.7 422.4,1767.3 429.0,1789.0 443.2,1744.9 449.5,1735.7 456.5,1778.1 463.1,1739.9 470.6,1775.7 474.0,1777.3 478.1,1777.8 484.8,1769.8 493.1,1738.2 501.4,1724.9 508.9,1749.9 517.2,1710.7 525.6,1716.6 533.9,1761.2 543.0,1749.0 550.5,1736.5 558.8,1704.6 566.3,1727.9 584.2,1665.3 593.2,1716.7 601.9,1716.7 611.3,1681.7 619.7,1668.6 629.4,1669.6 639.8,1686.3 650.4,1655.6 660.7,1663.0 670.9,1660.2 682.1,1688.2 693.3,1659.3 704.5,1643.5 716.2,1668.3 727.8,1663.0 739.9,1656.5 752.0,1640.7 764.1,1605.2 776.3,1583.4 800.5,1618.3 814.5,1591.3" fill="none" stroke="#6b6b6b" stroke-width="1.7" stroke-linejoin="round"/>
<polygon points="763.2,1604.1 976.5,1460 1086,1391.7 1385.6,1228.8 1385.6,1447.5 1317.8,1467.2 1207.3,1502.4 1086.5,1538.6 976.5,1572.5 763.2,1646.1" fill="rgba(165,40,50,0.21)" stroke="rgba(120,60,70,0.35)" stroke-width="0.8" stroke-linejoin="round"/>
<polygon points="763.2,1604.1 976.5,1473 1086,1419 1207,1357 1317.1,1295.9 1317.1,1479.8 1207.3,1511.2 1086.5,1549.6 976.5,1587.5 763.2,1646.1" fill="rgba(235,60,60,0.30)" stroke="rgba(200,80,80,0.35)" stroke-width="0.8" stroke-linejoin="round"/>
<polygon points="763.2,1604.1 976.5,1466 1086,1398.4 1207.1,1332.4 1207.1,1510.5 1086.5,1548.5 976.5,1586.5 763.2,1646.1" fill="rgba(240,150,60,0.36)" stroke="rgba(220,140,70,0.4)" stroke-width="0.8" stroke-linejoin="round"/>
<polygon points="763.2,1604.1 976.5,1459 1060,1405 1065,1400 1085.6,1387.7 1085.6,1561 1040,1569 976.5,1583.7 763.2,1646.1" fill="rgba(50,95,160,0.23)" stroke="rgba(60,80,120,0.45)" stroke-width="0.8" stroke-linejoin="round"/>
<polygon points="763.2,1604.1 830,1557 893.8,1510.6 950,1463 976.5,1441.1 976.5,1590.9 960,1585 893.8,1606 763.2,1646.1" fill="rgba(75,185,220,0.5)" stroke="rgba(60,150,190,0.6)" stroke-width="0.8" stroke-linejoin="round"/>
<polyline points="763.2,1625.7 870,1571 976.5,1518.5 1085.6,1472.3 1385.6,1345.9" fill="none" stroke="#9c1c28" stroke-width="1.8" />
<polyline points="763.2,1625.7 870,1574 976.5,1533.4 1085.6,1491.5 1317.1,1398.4" fill="none" stroke="#e2332d" stroke-width="1.8" />
<polyline points="763.2,1625.7 870,1572.5 976.5,1523.8 1073.6,1486.7" fill="none" stroke="#24386b" stroke-width="2" />
<path d="M763.2,1625.7 C774.3,1620.2 812.2,1601.9 830.0,1592.6 C847.8,1583.3 855.3,1578.3 869.9,1570.0 C884.5,1561.7 903.8,1550.5 917.8,1543.0 C931.8,1535.5 943.9,1528.8 953.7,1525.0 C963.5,1521.2 972.7,1521.0 976.5,1520.2" stroke="#2fb0dd" stroke-width="2.4" fill="none" />
<polyline points="763.2,1625.7 870,1573.5 976.5,1526.5 1085.6,1485.5 1207.1,1436.2" fill="none" stroke="#f3a23c" stroke-width="2.6" />
<text x="862.27" y="1445.6" font-size="24.5" fill="#36a0c8" textLength="97.77" lengthAdjust="spacingAndGlyphs">SSP1-1.9</text>
<text x="986.77" y="1382.9" font-size="24.5" fill="#27375f" textLength="98.06" lengthAdjust="spacingAndGlyphs">SSP1-2.6</text>
<text x="1108.06" y="1314.2" font-size="24.5" fill="#f0a03e" textLength="98.67" lengthAdjust="spacingAndGlyphs">SSP2-4.5</text>
<text x="1217.26" y="1262.7" font-size="24.5" fill="#c5242f" textLength="99.37" lengthAdjust="spacingAndGlyphs">SSP3-7.0</text>
<text x="1287.16" y="1220.9" font-size="24.5" fill="#8e1a2a" textLength="98.47" lengthAdjust="spacingAndGlyphs">SSP5-8.5</text>
<rect x="818" y="360" width="7.2" height="74.5" fill="#38383a" />
<rect x="818" y="460.5" width="7.2" height="1414.5" fill="#38383a" />
<rect x="798.3" y="261" width="45.9" height="99.3" fill="#38383a" />
<text transform="translate(832.1 342.7) rotate(-90)" x="-0.92" y="0" font-size="35.5" fill="#fff" font-weight="bold" textLength="68.29" lengthAdjust="spacingAndGlyphs">2020</text>
<rect x="85" y="1050.8" width="995" height="115.2" fill="#fff" opacity="0.78"/>
<text x="88.2" y="1092" font-size="54" fill="#0d0d0d" font-weight="bold" textLength="129.88" lengthAdjust="spacingAndGlyphs">Every</text>
<text x="239.28" y="1092" font-size="54" fill="#0d0d0d" font-weight="bold" textLength="80.83" lengthAdjust="spacingAndGlyphs">ton</text>
<text x="334.01" y="1092" font-size="54" fill="#0d0d0d" font-weight="bold" textLength="45.54" lengthAdjust="spacingAndGlyphs">of</text>
<text x="398.27" y="1092" font-size="54" fill="#0d0d0d" font-weight="bold" textLength="72.46" lengthAdjust="spacingAndGlyphs">CO</text>
<text x="501.57" y="1092" font-size="54" fill="#0d0d0d" font-weight="bold" textLength="114.81" lengthAdjust="spacingAndGlyphs">adds</text>
<text x="633.22" y="1092" font-size="54" fill="#0d0d0d" font-weight="bold" textLength="45.31" lengthAdjust="spacingAndGlyphs">to</text>
<text x="694.52" y="1092" font-size="54" fill="#0d0d0d" font-weight="bold" textLength="153.19" lengthAdjust="spacingAndGlyphs">global</text>
<text x="864.06" y="1092" font-size="54" fill="#0d0d0d" font-weight="bold" textLength="213.61" lengthAdjust="spacingAndGlyphs">warming</text>
<text x="470.44" y="1101.8" font-size="31" fill="#0d0d0d" font-weight="bold" textLength="15.89" lengthAdjust="spacingAndGlyphs">2</text>
<text x="94.33" y="1154.6" font-size="36.5" fill="#222" textLength="29.22" lengthAdjust="spacingAndGlyphs">b)</text>
<text x="134.17" y="1154.6" font-size="36.5" fill="#0d0d0d" font-weight="bold" textLength="193.22" lengthAdjust="spacingAndGlyphs">Cumulative</text>
<text x="339.89" y="1154.6" font-size="36.5" fill="#0d0d0d" font-weight="bold" textLength="52.71" lengthAdjust="spacingAndGlyphs">CO</text>
<text x="412.78" y="1154.6" font-size="36.5" fill="#0d0d0d" font-weight="bold" textLength="170.79" lengthAdjust="spacingAndGlyphs">emissions</text>
<text x="593.28" y="1154.6" font-size="36.5" fill="#0d0d0d" font-weight="bold" textLength="65.63" lengthAdjust="spacingAndGlyphs">and</text>
<text x="669.89" y="1154.6" font-size="36.5" fill="#0d0d0d" font-weight="bold" textLength="155.13" lengthAdjust="spacingAndGlyphs">warming</text>
<text x="834.67" y="1154.6" font-size="36.5" fill="#0d0d0d" font-weight="bold" textLength="78.36" lengthAdjust="spacingAndGlyphs">until</text>
<text x="925.7" y="1154.6" font-size="36.5" fill="#0d0d0d" font-weight="bold" textLength="81.47" lengthAdjust="spacingAndGlyphs">2050</text>
<text x="392.47" y="1158.6" font-size="21.5" fill="#0d0d0d" font-weight="bold" textLength="11.69" lengthAdjust="spacingAndGlyphs">2</text>
<rect x="1501" y="0" width="1" height="1999" fill="#000" />
</svg>
</body></html>
